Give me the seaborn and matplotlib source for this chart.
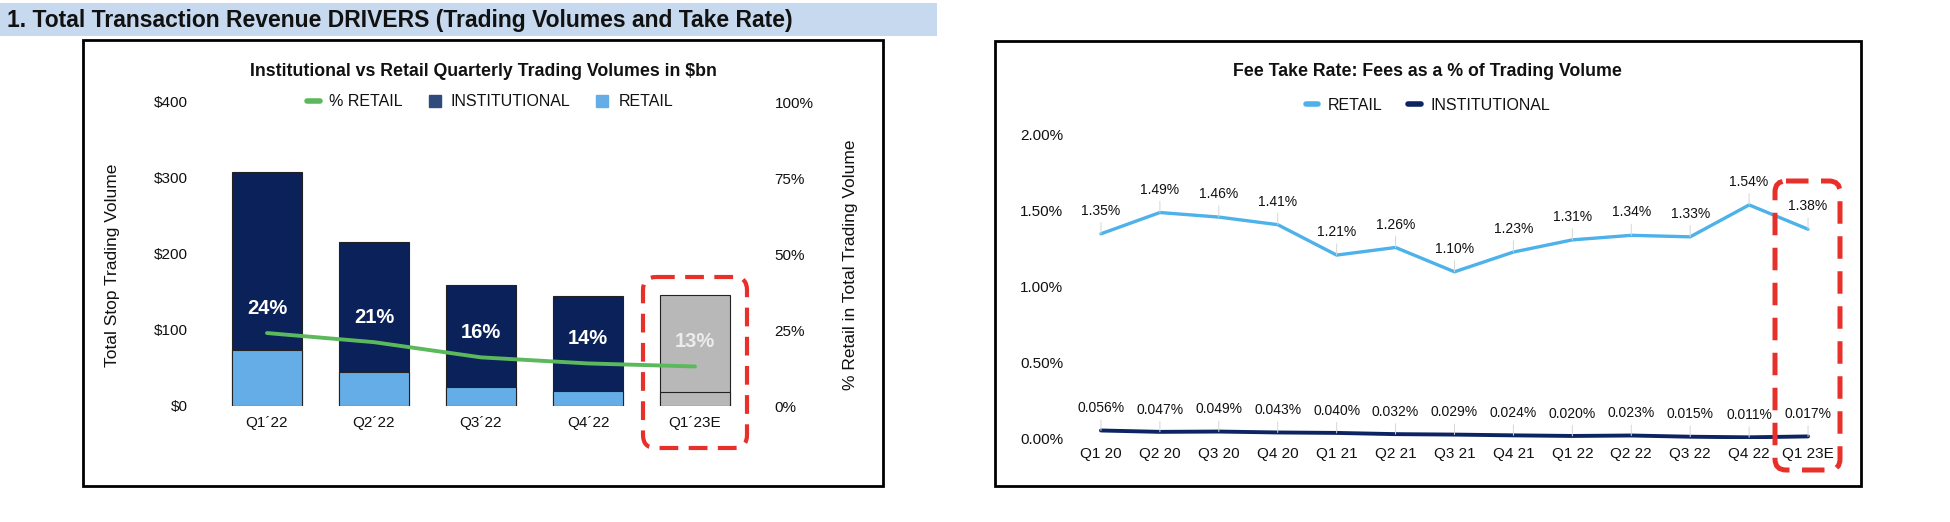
import numpy as np
import pandas as pd
import seaborn as sns
import matplotlib.pyplot as plt
from matplotlib.patches import Rectangle, FancyBboxPatch
from matplotlib.lines import Line2D
from matplotlib.ticker import FuncFormatter

# left chart: quarterly trading volumes ($bn)
quarters = ["Q1\u00b422", "Q2\u00b422", "Q3\u00b422", "Q4\u00b422", "Q1\u00b423E"]
institutional = [234, 171, 134, 125, 127]
retail = [74, 45, 25, 20, 19]
pct_retail = [24, 21, 16, 14, 13]

# right chart: fee take rate (%)
periods = ["Q1 20", "Q2 20", "Q3 20", "Q4 20", "Q1 21", "Q2 21", "Q3 21",
           "Q4 21", "Q1 22", "Q2 22", "Q3 22", "Q4 22", "Q1 23E"]
retail_rate = [1.35, 1.49, 1.46, 1.41, 1.21, 1.26, 1.10, 1.23, 1.31, 1.34, 1.33, 1.54, 1.38]
inst_rate = [0.056, 0.047, 0.049, 0.043, 0.040, 0.032, 0.029, 0.024, 0.020, 0.023,
             0.015, 0.011, 0.017]

NAVY = "#0a2159"
LIGHT = "#64ade6"
GRAY = "#b8b8b8"
GREEN = "#5cb85c"
LINE_RETAIL = "#4db1ea"
LINE_INST = "#0d2463"
RED = "#e8302a"

sns.set_theme(style="white")
plt.rcParams["font.family"] = ["Liberation Sans", "DejaVu Sans"]
plt.rcParams["text.color"] = "#111111"

W, H = 1950, 522
fig = plt.figure(figsize=(W / 100, H / 100), dpi=100)


def fx(px):
    return px / W


def fy(py):
    return 1 - py / H


# ---------- left chart ----------
vol = pd.DataFrame({"quarter": quarters, "institutional": institutional,
                    "retail": retail, "pct": pct_retail})
vol["total"] = vol["institutional"] + vol["retail"]

ax = fig.add_axes([fx(200), fy(406), fx(562), fy(102) - fy(406)])
sns.barplot(data=vol, x="quarter", y="total", hue="quarter",
            palette=[NAVY] * 4 + [GRAY], width=0.65, edgecolor="#222222",
            linewidth=0.8, saturation=1, legend=False, ax=ax)
sns.barplot(data=vol, x="quarter", y="retail", hue="quarter",
            palette=[LIGHT] * 4 + [GRAY], width=0.65, edgecolor="#222222",
            linewidth=0.8, saturation=1, legend=False, ax=ax)
ax.set_ylim(0, 400)
ax.set_xlim(-0.626, 4.626)
ax.set_yticks([0, 100, 200, 300, 400])
ax.yaxis.set_major_formatter(FuncFormatter(lambda v, p: f"${v:.0f}"))
ax.set_xlabel("")
ax.set_ylabel("")
ax.tick_params(axis="both", length=0, labelsize=11, colors="#111111")
ax.tick_params(axis="y", pad=9)
ax.tick_params(axis="x", pad=7)
sns.despine(ax=ax, left=True, bottom=True)

ax2 = ax.twinx()
sns.lineplot(x=np.arange(len(quarters)), y=vol["pct"], color=GREEN, lw=2.8,
             ax=ax2)
ax2.set_ylim(0, 100)
ax2.set_yticks([0, 25, 50, 75, 100])
ax2.yaxis.set_major_formatter(FuncFormatter(lambda v, p: f"{v:.0f}%"))
ax2.set_ylabel("")
ax2.tick_params(axis="y", length=0, labelsize=11, pad=9, colors="#111111")
sns.despine(ax=ax2, left=True, bottom=True, right=True)
for i, p in enumerate(pct_retail):
    ax2.annotate(f"{p}%", (i, p), xytext=(0, 18), textcoords="offset points",
                 ha="center", va="center", fontsize=14.5, fontweight="bold",
                 color="white" if i < 4 else "#ececec")

fig.text(fx(113), fy(265), "Total Stop Trading Volume", rotation=90,
         ha="center", va="center", fontsize=12.5)
fig.text(fx(850), fy(265), "% Retail in Total Trading Volume", rotation=90,
         ha="center", va="center", fontsize=12.5)
fig.text(fx(483), fy(71), "Institutional vs Retail Quarterly Trading Volumes in $bn",
         ha="center", va="center", fontsize=12.8, fontweight="bold")
left_handles = [
    Line2D([], [], color=GREEN, lw=4),
    Line2D([], [], marker="s", ls="none", color="#2f4b7c", markersize=9),
    Line2D([], [], marker="s", ls="none", color=LIGHT, markersize=9),
]
fig.legend(left_handles, ["% RETAIL", "INSTITUTIONAL", "RETAIL"], ncol=3,
           loc="center", bbox_to_anchor=(fx(490), fy(102)), frameon=False,
           fontsize=11.5, handlelength=0.8, handletextpad=0.6, columnspacing=1.6)

# ---------- right chart ----------
rx = np.arange(len(periods))
ar = fig.add_axes([fx(1071.5), fy(439), fx(766), fy(135) - fy(439)])
sns.lineplot(x=rx, y=retail_rate, color=LINE_RETAIL, lw=2.4, ax=ar)
sns.lineplot(x=rx, y=inst_rate, color=LINE_INST, lw=2.8, ax=ar)
ar.set_xlim(-0.5, len(periods) - 0.5)
ar.set_ylim(0, 2.0)
ar.set_yticks([0, 0.5, 1.0, 1.5, 2.0])
ar.yaxis.set_major_formatter(FuncFormatter(lambda v, p: f"{v:.2f}%"))
ar.set_xticks(rx)
ar.set_xticklabels(periods)
ar.tick_params(axis="both", length=0, labelsize=11, colors="#111111")
ar.tick_params(axis="y", pad=6)
ar.tick_params(axis="x", pad=6)
sns.despine(ax=ar, left=True, bottom=True)

leader = dict(arrowstyle="-", color="#d6d6d6", lw=0.7, shrinkA=1, shrinkB=0)
for i, v in enumerate(retail_rate):
    ar.annotate(f"{v:.2f}%", (i, v), xytext=(0, 16.5), textcoords="offset points",
                ha="center", va="center", fontsize=10, arrowprops=leader)
for i, v in enumerate(inst_rate):
    ar.annotate(f"{v:.3f}%", (i, v), xytext=(0, 16), textcoords="offset points",
                ha="center", va="center", fontsize=10, arrowprops=leader)

fig.text(fx(1427), fy(72), "Fee Take Rate: Fees as a % of Trading Volume",
         ha="center", va="center", fontsize=12.8, fontweight="bold")
right_handles = [Line2D([], [], color=LINE_RETAIL, lw=4),
                 Line2D([], [], color=LINE_INST, lw=4)]
fig.legend(right_handles, ["RETAIL", "INSTITUTIONAL"], ncol=2, loc="center",
           bbox_to_anchor=(fx(1428), fy(105)), frameon=False, fontsize=11.5,
           handlelength=0.8, handletextpad=0.6, columnspacing=1.6)

# ---------- frames, banner, highlight boxes (pixel overlay) ----------
ov = fig.add_axes([0, 0, 1, 1], zorder=10)
ov.set_xlim(0, W)
ov.set_ylim(H, 0)
ov.axis("off")
ov.patch.set_alpha(0)
ov.add_patch(Rectangle((0, 3), 937, 33, facecolor="#c6d9ef", edgecolor="none"))
ov.text(7, 20, "1. Total Transaction Revenue DRIVERS (Trading Volumes and Take Rate)",
        ha="left", va="center", fontsize=16.5, fontweight="bold",
        family=["Liberation Sans Narrow", "Liberation Sans", "DejaVu Sans"])
ov.add_patch(Rectangle((83, 40), 800, 446, fill=False, edgecolor="black", lw=2))
ov.add_patch(Rectangle((995, 41), 866, 445, fill=False, edgecolor="black", lw=2))
ov.add_patch(FancyBboxPatch((643, 277), 104, 171, boxstyle="round,pad=0,rounding_size=13",
                            fill=False, edgecolor=RED, lw=3, ls=(0, (4.5, 2.5))))
ov.add_patch(FancyBboxPatch((1775, 181), 65, 289, boxstyle="round,pad=0,rounding_size=11",
                            fill=False, edgecolor=RED, lw=3.6, ls=(0, (4.5, 2.5))))

fig.savefig("out.png", dpi=100)
